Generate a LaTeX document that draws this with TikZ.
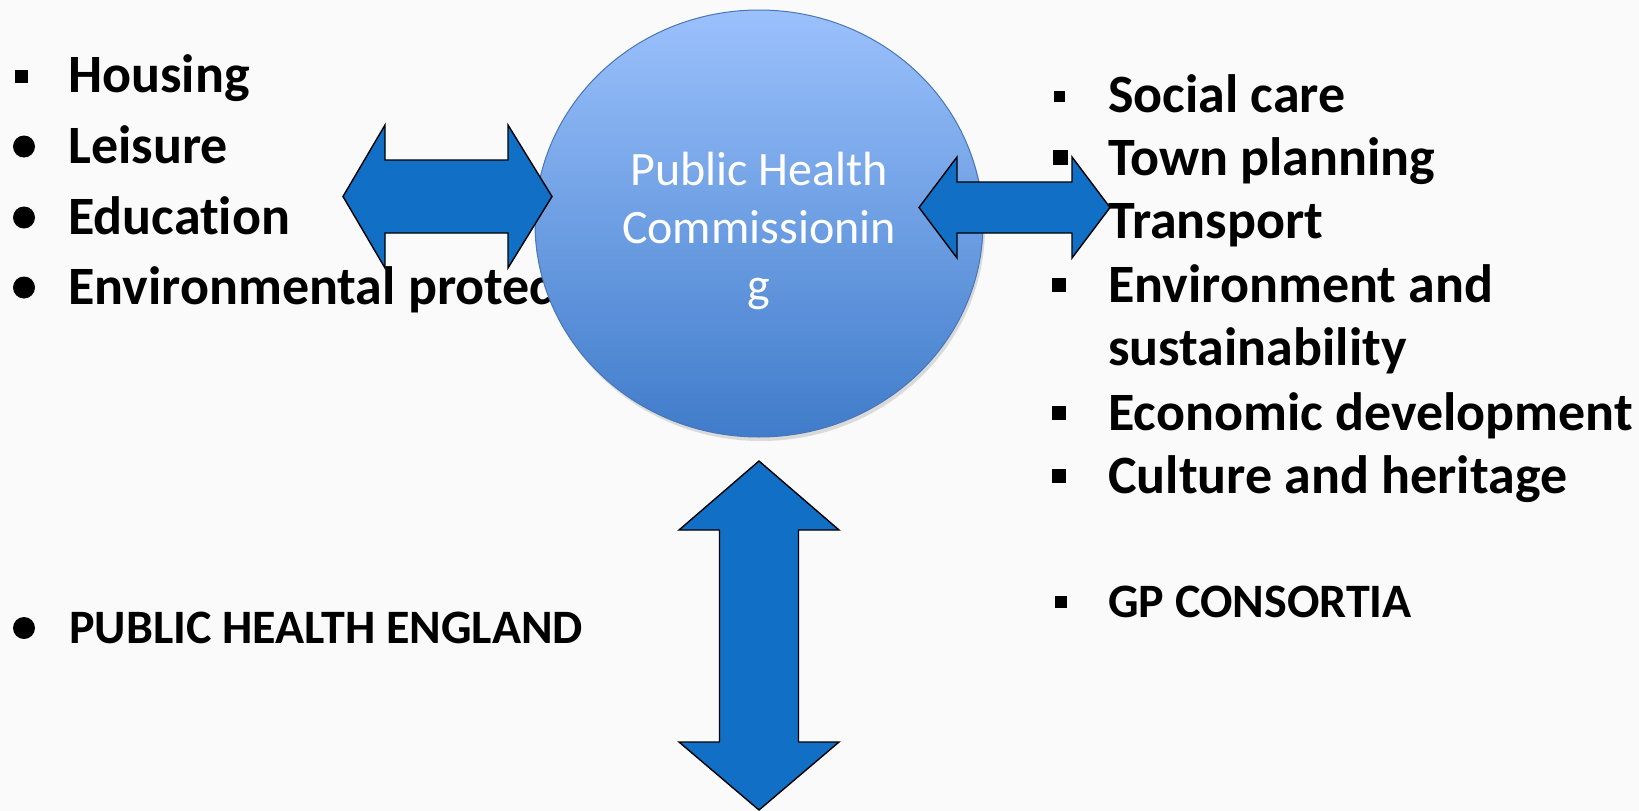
\documentclass[tikz,border=0pt]{standalone}
\usepackage{fontspec}
\setmainfont[Ligatures=NoCommon]{Carlito}
\definecolor{bgc}{RGB}{250,250,250}
\definecolor{arrowblue}{RGB}{17,111,197}
\definecolor{ctop}{RGB}{155,193,252}
\definecolor{cbot}{RGB}{64,124,202}
\definecolor{cedge}{RGB}{72,118,182}
\tikzset{
  item/.style={anchor=base west, inner sep=0, font=\bfseries\fontsize{54}{64}\selectfont},
  smallitem/.style={anchor=base west, inner sep=0, font=\bfseries\fontsize{48}{58}\selectfont},
  sqb/.style={fill=black, draw=none, minimum size=14, inner sep=0},
  rdb/.style={circle, fill=black, draw=none, minimum size=22, inner sep=0},
  blockarrow/.style={fill=arrowblue, draw=black, line width=1.4pt, line join=miter},
  ctext/.style={anchor=base, inner sep=0, text=white, font=\fontsize{48}{58}\selectfont}
}
\begin{document}
\begin{tikzpicture}[x=1pt,y=-1pt]
\path[use as bounding box, fill=bgc] (0,0) rectangle (1639,811);
% left list
\node[sqb, minimum size=13] (bl1) at (21,76) {};
\node[item] (l1) at (68,92.5) {Housing};
\node[rdb] (bl2) at (24,146.5) {};
\node[item] (l2) at (68,163) {Leisure};
\node[rdb] (bl3) at (24,217.5) {};
\node[item] (l3) at (68,234) {Education};
\node[rdb] (bl4) at (24,287.5) {};
\node[item] (l4) at (68,304) {Environmental protec};
% right list
\node[sqb, minimum size=11] (br1) at (1059,96) {};
\node[item] (r1) at (1108,112) {Social care};
\node[sqb, minimum size=15] (br2) at (1060,157) {};
\node[item] (r2) at (1108,175) {Town planning};
\node[sqb] (br3) at (1059,221) {};
\node[item] (r3) at (1108,238) {Transport};
\node[sqb] (br4) at (1059,285) {};
\node[item] (r4) at (1108,302) {Environment and};
\node[item] (r5) at (1108,365) {sustainability};
\node[sqb] (br6) at (1059,413) {};
\node[item] (r6) at (1108,430) {Economic development};
\node[sqb] (br7) at (1059,476) {};
\node[item] (r7) at (1108,493) {Culture and heritage};
% bottom items
\node[rdb] (bp) at (24,628) {};
\node[smallitem] (phe) at (69,643) {PUBLIC HEALTH ENGLAND};
\node[sqb, minimum size=12] (bg) at (1061,602) {};
\node[smallitem] (gp) at (1108,617) {GP CONSORTIA};
% circle
\fill[gray!45, opacity=0.6] (761,227.5) ellipse [x radius=224, y radius=213.5];
\shade[top color=ctop, bottom color=cbot, draw=cedge, line width=1pt] (759,223.5) ellipse [x radius=224, y radius=213.5];
\node[inner sep=0] (circ) at (759,223.5) {};
\node[ctext] (c1) at (759,185) {Public Health};
\node[ctext] (c2) at (759,243) {Commissionin};
\node[ctext] (c3) at (759,301) {g};
% arrows
\draw[blockarrow] (343,196.5) -- (385,125) -- (385,160) -- (508,160) -- (508,125) -- (552,196.5) -- (508,268) -- (508,233) -- (385,233) -- (385,268) -- cycle;
\draw[blockarrow] (919,207.5) -- (957,157) -- (957,182) -- (1072,182) -- (1072,157) -- (1110,207.5) -- (1072,258) -- (1072,233) -- (957,233) -- (957,258) -- cycle;
\draw[blockarrow] (759,461) -- (839,530) -- (798.5,530) -- (798.5,742) -- (839,742) -- (759,810) -- (679,742) -- (719.5,742) -- (719.5,530) -- (679,530) -- cycle;
\end{tikzpicture}
\end{document}
